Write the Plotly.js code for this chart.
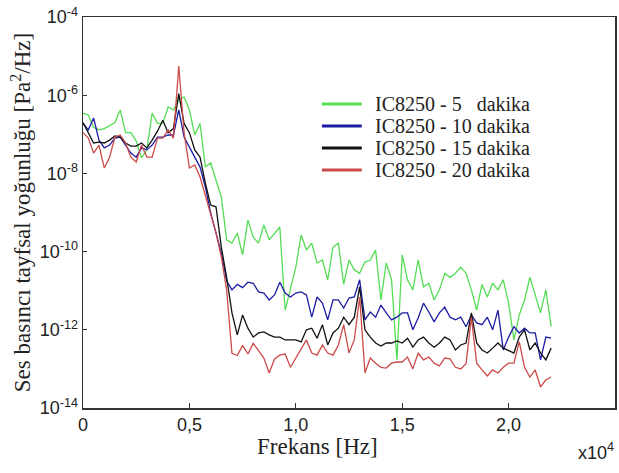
<!DOCTYPE html>
<html>
<head>
<meta charset="utf-8">
<script src="https://cdn.plot.ly/plotly-3.0.1.min.js"></script>
<style>html,body{margin:0;padding:0;background:#fff;}#chart{width:619px;height:473px;}</style>
</head>
<body>
<div id="chart"></div>
<script>
// Frequency (Hz)
const freq = [0,250,500,750,1000,1250,1500,1750,2000,2250,
2500,2750,3000,3250,3500,3750,4000,4250,4500,4750,
5000,5250,5500,5750,6000,6250,6500,6750,7000,7250,
7500,7750,8000,8250,8500,8750,9000,9250,9500,9750,
10000,10250,10500,10750,11000,11250,11500,11750,12000,12250,
12500,12750,13000,13250,13500,13750,14000,14250,14500,14750,
15000,15250,15500,15750,16000,16250,16500,16750,17000,17250,
17500,17750,18000,18250,18500,18750,19000,19250,19500,19750,
20000,20250,20500,20750,21000,21250,21500,21750,22000];

// Sound pressure spectral density (Pa^2/Hz)
const psd5 = [3.5e-7,3.1e-7,1.5e-7,1.3e-7,1.4e-7,1.7e-7,2.0e-7,4.2e-7,1.1e-7,1.1e-7,
6.7e-8,2.5e-8,4.0e-8,3.5e-7,1.9e-7,1.9e-7,5.0e-7,4.2e-7,7.5e-7,9.0e-7,
4.2e-7,9.6e-8,1.9e-7,1.45e-8,1.85e-8,6.7e-9,2.5e-9,2.0e-10,1.65e-10,3.0e-10,
8.2e-11,6.4e-10,2.35e-10,1.65e-10,4.8e-10,2.0e-10,3.0e-10,4.25e-10,3.2e-12,1.05e-11,
4.0e-11,2.65e-10,1.1e-10,1.65e-10,5.1e-11,6.1e-11,1.9e-11,1.3e-10,1.65e-10,1.45e-11,
6.1e-11,3.4e-11,2.8e-11,5.4e-11,6.1e-11,1.1e-10,5.8e-12,5.1e-11,1.9e-11,1.7e-13,
8.2e-11,1.9e-11,1.05e-11,6.1e-11,1.25e-11,1.55e-11,5.8e-12,1.05e-11,2.8e-11,2.2e-11,
2.8e-11,4.0e-11,2.8e-11,1.05e-11,3.2e-12,1.45e-11,6.9e-12,1.55e-11,1.05e-11,1.9e-11,
4.8e-12,5.5e-13,2.4e-12,5.8e-12,2.2e-11,7.8e-12,2.7e-12,1.05e-11,1.2e-12];

const psd10 = [1.9e-7,1.3e-7,2.6e-7,7.1e-8,4.5e-8,5.3e-8,8.0e-8,8.5e-8,5.3e-8,3.3e-8,
2.6e-8,4.5e-8,4.0e-8,5.3e-8,8.5e-8,8.5e-8,9.6e-8,9.6e-8,4.2e-7,8.5e-8,
4.7e-8,2.6e-8,1.45e-8,4.5e-9,9.7e-10,3.0e-10,9.2e-11,1.8e-11,1.05e-11,1.45e-11,
1.2e-11,1.65e-11,1.55e-11,9.3e-12,8.7e-12,5.8e-12,7.8e-12,1.65e-11,8.7e-12,6.9e-12,
8.7e-12,9.3e-12,7.8e-12,2.1e-12,6.9e-12,4.8e-12,1.8e-12,5.8e-12,5.8e-12,3.6e-12,
6.5e-12,6.9e-12,1.9e-11,1.8e-12,2.85e-12,2.1e-12,4.3e-12,2.7e-12,1.8e-12,2.1e-12,
2.7e-12,2.7e-12,1.0e-12,2.0e-12,4.8e-12,2.85e-12,1.6e-12,2.7e-12,3.8e-12,2.1e-12,
1.8e-12,2.1e-12,1.2e-12,2.4e-12,1.5e-12,1.35e-12,2.1e-12,1.0e-12,3.2e-12,3.05e-13,
6.5e-13,1.2e-12,8.3e-13,1.1e-12,8.3e-13,8.3e-13,1.7e-13,6.5e-13,6.1e-13];

const psd15 = [2.0e-7,1.1e-7,6.0e-8,6.3e-8,6.0e-8,7.1e-8,9.1e-8,8.5e-8,6.0e-8,5.0e-8,
5.0e-8,6.0e-8,4.5e-8,7.1e-8,1.2e-7,2.3e-7,1.1e-7,1.4e-7,1.1e-6,1.9e-7,
1.1e-7,4.0e-8,2.6e-8,5.6e-9,1.55e-9,1.4e-9,1.3e-10,2.2e-11,2.7e-12,7.4e-13,
2.4e-12,1.1e-12,6.5e-13,8.3e-13,8.8e-13,7.4e-13,6.5e-13,6.5e-13,5.5e-13,5.5e-13,
5.5e-13,4.9e-13,1.0e-12,1.1e-12,6.1e-13,1.35e-12,4.1e-13,8.3e-13,1.1e-12,2.1e-12,
1.35e-12,2.1e-12,1.25e-11,1.0e-12,6.5e-13,4.6e-13,3.85e-13,4.6e-13,4.6e-13,5.2e-13,
4.6e-13,6.1e-13,3.6e-13,5.5e-13,6.5e-13,4.6e-13,3.6e-13,4.6e-13,6.5e-13,5.5e-13,
3.05e-13,4.1e-13,4.6e-13,2.7e-12,4.6e-13,3.05e-13,2.55e-13,3.4e-13,4.6e-13,3.4e-13,
2.9e-13,2.55e-13,6.5e-13,1.0e-12,3.05e-13,4.6e-13,2.55e-13,1.7e-13,3.4e-13];

const psd20 = [1.1e-7,8.0e-8,3.3e-8,5.3e-8,1.37e-8,2.6e-8,8.5e-8,9.6e-8,6.0e-8,2.6e-8,
1.95e-8,5.3e-8,2.6e-8,2.6e-8,8.0e-8,8.0e-8,1.3e-7,8.0e-8,5.6e-6,1.1e-7,
1.37e-8,1.65e-8,8.1e-9,2.8e-9,1.0e-9,3.0e-10,7.3e-11,1.05e-11,2.5e-13,2.2e-13,
4.0e-13,2.4e-13,4.5e-13,2.9e-13,1.9e-13,7.85e-14,1.8e-13,2.25e-13,2.4e-13,1.1e-13,
1.9e-13,3.4e-13,5.5e-13,2.55e-13,2.25e-13,4.1e-13,2.55e-13,2.25e-13,4.1e-13,1.35e-12,
2.55e-13,5.5e-13,6.9e-12,7.85e-14,1.9e-13,1.4e-13,1.1e-13,1.05e-13,1.4e-13,1.5e-13,
1.5e-13,2.0e-13,1.0e-13,2.55e-13,1.7e-13,2.0e-13,1.4e-13,1.2e-13,1.9e-13,1.8e-13,
1.1e-13,1.0e-13,1.35e-13,2.1e-12,1.4e-13,9.4e-14,6.6e-14,9.4e-14,7.85e-14,1.1e-13,
1.4e-13,1.4e-13,4.9e-13,1.1e-13,6.2e-14,9.4e-14,3.45e-14,5.2e-14,6.2e-14];

const seriesNames = ['IC8250 - 5\u00a0\u00a0\u00a0dakika','IC8250 - 10 dakika','IC8250 - 15 dakika','IC8250 - 20 dakika'];
const seriesColors = ['#55dd55','#1c1ca6','#111111','#cc4a4a'];
const xTickVals = [0,5000,10000,15000,20000,25000];
const xTickText = ['0','0,5','1,0','1,5','2,0','2,5'];
const yTickVals = [1e-14,1e-12,1e-10,1e-8,1e-6,1e-4];
const yTickText = ['10<sup>-14</sup>','10<sup>-12</sup>','10<sup>-10</sup>','10<sup>-8</sup>','10<sup>-6</sup>','10<sup>-4</sup>'];

const sans = 'Liberation Sans, Arial, sans-serif';
const serif = 'Liberation Serif, Times New Roman, serif';

const allSeries = [psd5, psd10, psd15, psd20];
const traces = allSeries.map((ys, i) => ({
  x: freq, y: ys, type: 'scatter', mode: 'lines', name: seriesNames[i],
  line: {color: seriesColors[i], width: 1.3}, hoverinfo: 'skip'
}));

// Legend box (inside plot, paper coordinates): line sample + label per series
const legendLeft = 0.449, legendLineLen = 0.075, legendTextGap = 0.021;
const legendTop = 0.7775, legendStep = 0.0563;
const legendShapes = [], legendNotes = [];
seriesNames.forEach((nm, i) => {
  const yy = legendTop - i * legendStep;
  legendShapes.push({type: 'line', xref: 'paper', yref: 'paper',
    x0: legendLeft, x1: legendLeft + legendLineLen, y0: yy, y1: yy,
    line: {color: seriesColors[i], width: 3}});
  legendNotes.push({text: nm, xref: 'paper', yref: 'paper',
    x: legendLeft + legendLineLen + legendTextGap, y: yy,
    xanchor: 'left', yanchor: 'middle', showarrow: false,
    font: {family: serif, size: 20, color: '#222'}});
});

const layout = {
  width: 619, height: 473,
  margin: {l: 83, r: 4, t: 17, b: 65},
  paper_bgcolor: '#fff', plot_bgcolor: '#fff',
  showlegend: false,
  xaxis: {
    range: [0, 25000], tickvals: xTickVals, ticktext: xTickText,
    ticks: 'inside', ticklen: 5, tickwidth: 1.2, tickcolor: '#333',
    showline: true, mirror: true, linecolor: '#333', linewidth: 1.5,
    showgrid: false, zeroline: false,
    tickfont: {family: sans, size: 18, color: '#222'}
  },
  yaxis: {
    type: 'log', range: [-14, -4], tickvals: yTickVals, ticktext: yTickText,
    ticks: 'inside', ticklen: 4, tickwidth: 1.2, tickcolor: '#333',
    showline: true, mirror: true, linecolor: '#333', linewidth: 1.5,
    showgrid: false, zeroline: false,
    tickfont: {family: sans, size: 18, color: '#222'},
    title: {text: 'Ses basıncı tayfsal yoğunluğu [Pa<sup>2</sup>/Hz]',
      font: {family: serif, size: 23, color: '#222'}, standoff: 2}
  },
  shapes: legendShapes,
  annotations: legendNotes.concat([
    {text: 'Frekans [Hz]', xref: 'paper', yref: 'paper', x: 0.4417, y: -0.098,
     xanchor: 'center', yanchor: 'middle', showarrow: false,
     font: {family: serif, size: 23, color: '#222'}},
    {text: 'x10<sup>4</sup>', xref: 'paper', yref: 'paper', x: 0.964, y: -0.11,
     xanchor: 'center', yanchor: 'middle', showarrow: false,
     font: {family: sans, size: 18, color: '#222'}}
  ])
};

Plotly.newPlot('chart', traces, layout, {displayModeBar: false, staticPlot: true});
</script>
</body>
</html>
